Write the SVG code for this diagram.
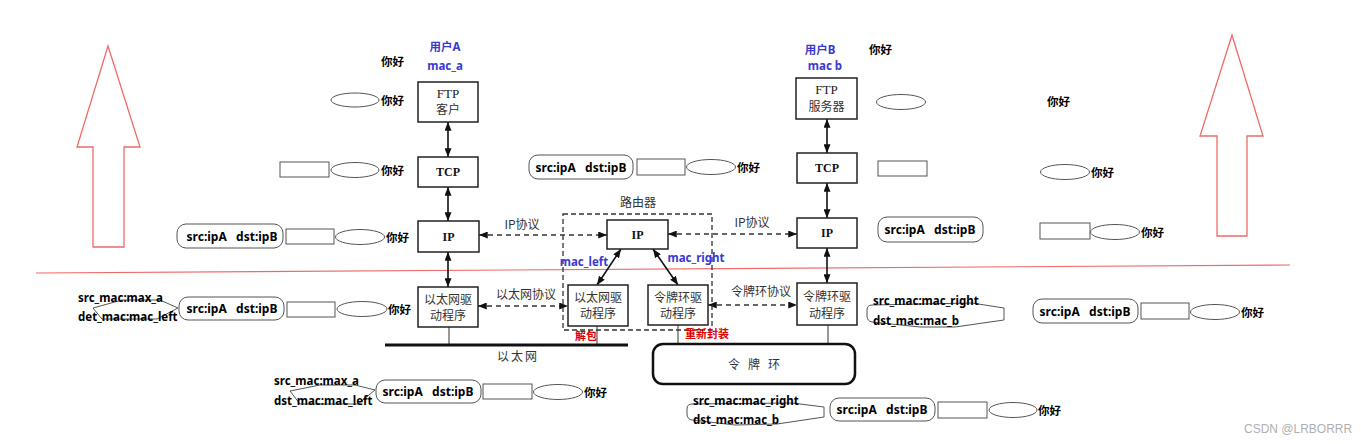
<svg xmlns="http://www.w3.org/2000/svg" width="1361" height="444" viewBox="0 0 1361 444">
<style>
.bg{fill:#fff}
.box{fill:#fff;stroke:#222;stroke-width:1.5}
.pkt{fill:#fff;stroke:#555;stroke-width:1}
.oval{fill:#fff;stroke:#555;stroke-width:1}
.hex{fill:none;stroke:#555;stroke-width:1}
.red{fill:none;stroke:#f06a6a;stroke-width:1.3}
.dash{fill:none;stroke:#333;stroke-width:1.3;stroke-dasharray:5 4}
.solid{fill:none;stroke:#111;stroke-width:1.6}
.t{font-family:"Liberation Serif","Noto Sans CJK SC",serif;font-size:13px;fill:#222;text-anchor:middle}
.tb{font-family:"Liberation Serif","Noto Sans CJK SC",serif;font-size:12px;font-weight:bold;fill:#111;text-anchor:middle}
.cn{font-family:"Noto Sans CJK SC",sans-serif;font-size:12px;fill:#333;text-anchor:middle}
.hi{font-family:"Noto Sans CJK SC",sans-serif;font-size:11.5px;font-weight:bold;fill:#000}
.ip{font-family:"Noto Sans","Noto Sans CJK SC",sans-serif;font-size:12px;font-weight:bold;fill:#000;text-anchor:middle}
.mac{font-family:"Noto Sans","Noto Sans CJK SC",sans-serif;font-size:11.5px;font-weight:bold;fill:#000}
.blue{font-family:"Noto Sans","Noto Sans CJK SC",sans-serif;font-size:11.5px;font-weight:bold;fill:#3a3ad0;text-anchor:middle}
.rt{font-family:"Noto Sans CJK SC",sans-serif;font-size:11px;font-weight:bold;fill:#e00000}
</style>
<defs>
<marker id="ah" viewBox="0 0 10 8" refX="10" refY="4" markerWidth="9" markerHeight="7" markerUnits="userSpaceOnUse" orient="auto-start-reverse">
<path d="M0,0 L10,4 L0,8 z" fill="#111"/>
</marker>
</defs>
<rect class="bg" x="0" y="0" width="1361" height="444"/>

<!-- big red arrows and divider -->
<g id="red-marks">
<polygon class="red" points="108,46 140,147 124,147 124,247 93,247 93,147 77,147"/>
<polygon class="red" points="1232,35 1263,136 1247,136 1247,236 1217,236 1217,136 1200,136"/>
<line x1="36" y1="273" x2="1290" y2="265" stroke="#f06a6a" stroke-width="1.2"/>
</g>

<!-- connectors -->
<g id="connectors">
<line class="solid" x1="448" y1="122" x2="448" y2="157" marker-start="url(#ah)" marker-end="url(#ah)"/>
<line class="solid" x1="448" y1="187" x2="448" y2="221" marker-start="url(#ah)" marker-end="url(#ah)"/>
<line class="solid" x1="448" y1="252" x2="448" y2="287" marker-start="url(#ah)" marker-end="url(#ah)"/>
<line class="solid" x1="827" y1="119" x2="827" y2="153" marker-start="url(#ah)" marker-end="url(#ah)"/>
<line class="solid" x1="827" y1="183" x2="827" y2="218" marker-start="url(#ah)" marker-end="url(#ah)"/>
<line class="solid" x1="827" y1="248" x2="827" y2="283" marker-start="url(#ah)" marker-end="url(#ah)"/>
<line class="solid" x1="621" y1="249" x2="597" y2="285" marker-start="url(#ah)" marker-end="url(#ah)"/>
<line class="solid" x1="653" y1="249" x2="678" y2="285" marker-start="url(#ah)" marker-end="url(#ah)"/>
<line class="dash" x1="479" y1="235" x2="607" y2="235" marker-start="url(#ah)" marker-end="url(#ah)"/>
<line class="dash" x1="668" y1="234" x2="797" y2="234" marker-start="url(#ah)" marker-end="url(#ah)"/>
<line class="dash" x1="478" y1="306" x2="568" y2="306" marker-start="url(#ah)" marker-end="url(#ah)"/>
<line class="dash" x1="708" y1="305" x2="797" y2="305" marker-start="url(#ah)" marker-end="url(#ah)"/>
<line x1="449" y1="327" x2="449" y2="345" stroke="#333" stroke-width="1"/>
<line x1="597" y1="326" x2="597" y2="345" stroke="#333" stroke-width="1"/>
<line x1="678" y1="325" x2="678" y2="344" stroke="#333" stroke-width="1"/>
<line x1="828" y1="325" x2="828" y2="344" stroke="#333" stroke-width="1"/>
<text class="cn" x="522" y="229">IP协议</text>
<text class="cn" x="752" y="227">IP协议</text>
<text class="cn" x="526" y="299">以太网协议</text>
<text class="cn" x="761" y="296">令牌环协议</text>
</g>

<!-- router -->
<g id="router">
<rect x="563" y="214" width="149" height="116" fill="none" stroke="#333" stroke-width="1.3" stroke-dasharray="5 3"/>
<text class="cn" x="638" y="207">路由器</text>
</g>
<g id="router-ip"><rect class="box" x="607" y="220" width="61" height="29"/><text class="tb" x="637.5" y="239">IP</text></g>
<g id="router-eth"><rect class="box" x="568" y="285" width="60" height="41"/><text class="cn" x="598" y="302">以太网驱</text><text class="cn" x="598" y="318">动程序</text></g>
<g id="router-token"><rect class="box" x="648" y="285" width="60" height="40"/><text class="cn" x="678" y="302">令牌环驱</text><text class="cn" x="678" y="318">动程序</text></g>
<text class="blue" x="584" y="266">mac_left</text>
<text class="blue" x="696" y="262">mac_right</text>
<text class="rt" x="575" y="340">解包</text>
<text class="rt" x="685" y="338">重新封装</text>

<!-- host A stack -->
<g id="hostA-ftp"><rect class="box" x="418" y="82" width="60" height="40"/><text class="t" x="448" y="98">FTP</text><text class="cn" x="448" y="114">客户</text></g>
<g id="hostA-tcp"><rect class="box" x="418" y="157" width="60" height="30"/><text class="tb" x="448" y="176">TCP</text></g>
<g id="hostA-ip"><rect class="box" x="418" y="221" width="61" height="31"/><text class="tb" x="448.5" y="241">IP</text></g>
<g id="hostA-eth"><rect class="box" x="418" y="287" width="60" height="40"/><text class="cn" x="448" y="304">以太网驱</text><text class="cn" x="448" y="320">动程序</text></g>
<text class="blue" x="445" y="51">用户A</text>
<text class="blue" x="445" y="70">mac_a</text>

<!-- host B stack -->
<g id="hostB-ftp"><rect class="box" x="796" y="78" width="61" height="41"/><text class="t" x="826.5" y="94">FTP</text><text class="cn" x="826.5" y="111">服务器</text></g>
<g id="hostB-tcp"><rect class="box" x="797" y="153" width="60" height="30"/><text class="tb" x="827" y="172">TCP</text></g>
<g id="hostB-ip"><rect class="box" x="797" y="218" width="60" height="30"/><text class="tb" x="827" y="237">IP</text></g>
<g id="hostB-token"><rect class="box" x="797" y="283" width="60" height="42"/><text class="cn" x="827" y="301">令牌环驱</text><text class="cn" x="827" y="318">动程序</text></g>
<text class="blue" x="820" y="54">用户B</text>
<text class="blue" x="825" y="70">mac b</text>

<!-- networks -->
<g id="ethernet">
<line x1="385" y1="345" x2="628" y2="345" stroke="#111" stroke-width="3"/>
<text class="cn" x="518" y="361" letter-spacing="2">以太网</text>
</g>
<g id="token-ring">
<rect x="653" y="344" width="202" height="40" rx="10" fill="#fff" stroke="#111" stroke-width="2.5"/>
<text class="cn" x="758" y="369" letter-spacing="8">令牌环</text>
</g>

<!-- data annotations: left -->
<g id="dataA">
<text class="hi" x="381" y="66">你好</text>
<ellipse class="oval" cx="355" cy="100" rx="24" ry="7"/><text class="hi" x="381" y="105">你好</text>
<rect class="pkt" x="280" y="162" width="49" height="15"/><ellipse class="oval" cx="355" cy="170" rx="24" ry="7.5"/><text class="hi" x="381" y="175">你好</text>
<rect class="pkt" x="177" y="224" width="106" height="24" rx="9"/><text class="ip" x="232" y="241" xml:space="preserve">src:ipA   dst:ipB</text>
<rect class="pkt" x="286" y="229" width="48" height="15"/><ellipse class="oval" cx="360" cy="237" rx="24.5" ry="7.5"/><text class="hi" x="386" y="242">你好</text>
<polygon class="hex" points="93,308 122,300 160,300 178,308 157,319 102,319"/>
<text class="mac" x="78" y="302">src_mac:max_a</text>
<text class="mac" x="78" y="321">det_mac:mac_left</text>
<rect class="pkt" x="179" y="297" width="105" height="23" rx="9"/><text class="ip" x="232" y="313" xml:space="preserve">src:ipA   dst:ipB</text>
<rect class="pkt" x="287" y="302" width="48" height="15"/><ellipse class="oval" cx="362" cy="309" rx="25" ry="7.5"/><text class="hi" x="388" y="314">你好</text>
</g>

<!-- data annotations: middle -->
<g id="dataMid">
<rect class="pkt" x="529" y="155" width="104" height="24" rx="9"/><text class="ip" x="581" y="172" xml:space="preserve">src:ipA   dst:ipB</text>
<rect class="pkt" x="637" y="159" width="48" height="16"/><ellipse class="oval" cx="711" cy="167" rx="24.5" ry="7.5"/><text class="hi" x="737" y="172">你好</text>
</g>

<!-- data annotations: right -->
<g id="dataB">
<text class="hi" x="869" y="54">你好</text>
<ellipse class="oval" cx="901" cy="102" rx="24.5" ry="7.5"/>
<text class="hi" x="1047" y="106">你好</text>
<rect class="pkt" x="878" y="161" width="49" height="15"/>
<ellipse class="oval" cx="1065" cy="172" rx="24.5" ry="7.5"/><text class="hi" x="1091" y="177">你好</text>
<rect class="pkt" x="878" y="217" width="105" height="25" rx="9"/><text class="ip" x="930" y="234" xml:space="preserve">src:ipA   dst:ipB</text>
<rect class="pkt" x="1040" y="223" width="50" height="16"/><ellipse class="oval" cx="1115" cy="232" rx="24.5" ry="7.5"/><text class="hi" x="1141" y="237">你好</text>
<path class="hex" d="M872,305 L972,303 L1004,308 L1004,320 L955,327 L920,327 L872,322 Q867,321 867,316 L867,310 Q867,305 872,305 Z"/>
<text class="mac" x="873" y="305">src_mac:mac_right</text>
<text class="mac" x="873" y="325">dst_mac:mac_b</text>
<rect class="pkt" x="1033" y="299" width="105" height="24" rx="9"/><text class="ip" x="1085" y="316" xml:space="preserve">src:ipA   dst:ipB</text>
<rect class="pkt" x="1141" y="303" width="48" height="16"/><ellipse class="oval" cx="1215" cy="312" rx="24.5" ry="7.5"/><text class="hi" x="1241" y="317">你好</text>
</g>

<!-- data annotations: bottom -->
<g id="dataBottomLeft">
<polygon class="hex" points="290,391 320,385 355,385 375,390 358,404 300,404"/>
<text class="mac" x="274" y="385">src_mac:max_a</text>
<text class="mac" x="274" y="405">dst_mac:mac_left</text>
<rect class="pkt" x="376" y="380" width="105" height="23" rx="9"/><text class="ip" x="428" y="396" xml:space="preserve">src:ipA   dst:ipB</text>
<rect class="pkt" x="483" y="384" width="49" height="15"/><ellipse class="oval" cx="558" cy="392" rx="24.5" ry="7.5"/><text class="hi" x="584" y="397">你好</text>
</g>
<g id="dataBottomRight">
<path class="hex" d="M692,404 L792,403 L824,407 L824,417 L777,424 L735,425 L692,420 Q687,419 687,414 L687,409 Q687,404 692,404 Z"/>
<text class="mac" x="693" y="405">src_mac:mac_right</text>
<text class="mac" x="693" y="424">dst_mac:mac_b</text>
<rect class="pkt" x="830" y="398" width="105" height="23" rx="9"/><text class="ip" x="882" y="414" xml:space="preserve">src:ipA   dst:ipB</text>
<rect class="pkt" x="938" y="402" width="49" height="16"/><ellipse class="oval" cx="1013" cy="410" rx="24" ry="7.5"/><text class="hi" x="1038" y="415">你好</text>
</g>

<text x="1244" y="433" font-family="'Liberation Sans',sans-serif" font-size="12" fill="#b0b0b0">CSDN @LRBORRR</text>
</svg>
